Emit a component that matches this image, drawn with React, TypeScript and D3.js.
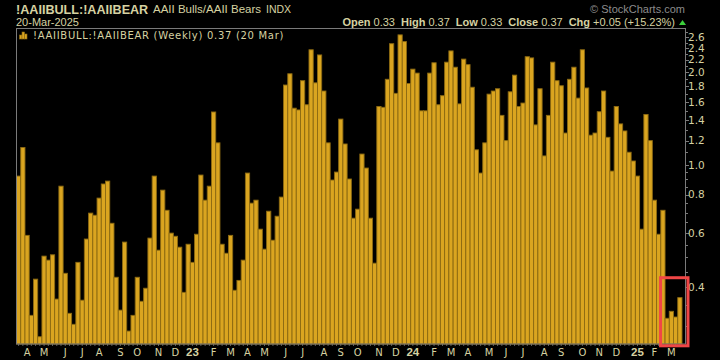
import * as d3 from "d3";
import { useEffect } from "react";

// weekly AAII bull/bear ratio, Mar 24 2022 .. Mar 20 2025
const ratio = [
  0.92, 1.14, 0.59, 0.324, 0.425, 0.276, 0.505, 0.49, 0.51, 0.366,
  0.853, 0.444, 0.329, 0.303, 0.482, 0.363, 0.574, 0.697, 0.686, 0.78,
  0.867, 0.886, 0.646, 0.431, 0.337, 0.561, 0.288, 0.324, 0.431, 0.36,
  0.397, 0.578, 0.92, 0.528, 0.828, 0.712, 0.6, 0.586, 0.54, 0.385,
  0.552, 0.482, 0.595, 0.927, 0.768, 0.853, 1.487, 1.18, 0.552, 0.516,
  0.59, 0.391, 0.421, 0.49, 0.941, 0.751, 0.768, 0.618, 0.532, 0.707,
  0.569, 0.681, 0.786, 1.82, 1.98, 1.53, 1.51, 1.88, 1.57, 2.37,
  1.85, 2.28, 1.74, 1.18, 0.893, 0.948, 1.41, 1.17, 0.9, 0.671,
  0.718, 1.085, 0.977, 0.671, 0.479, 1.55, 1.54, 1.9, 2.48, 1.71,
  2.65, 2.52, 1.84, 2.05, 1.99, 1.5, 1.5, 1.99, 2.15, 1.57,
  1.68, 2.16, 2.35, 2.08, 1.58, 2.21, 2.12, 1.79, 1.12, 0.941,
  1.18, 1.7, 1.74, 1.77, 1.45, 1.2, 1.73, 1.96, 1.55, 1.59,
  2.25, 2.23, 1.35, 1.77, 1.07, 1.45, 2.16, 1.88, 1.81, 1.27,
  1.9, 2.08, 1.65, 2.37, 1.78, 1.25, 1.27, 1.49, 1.74, 1.23,
  0.955, 1.55, 1.36, 1.29, 1.1, 1.03, 0.92, 0.618, 1.46, 1.2,
  0.768, 0.595, 0.712, 0.317, 0.334, 0.32, 0.37,
];
const lastDate = new Date(2025, 2, 20);
const yTicks = [0.4, 0.6, 0.8, 1.0, 1.2, 1.4, 1.6, 1.8, 2.0, 2.2, 2.4, 2.6];
const monthLetters = ["J", "F", "M", "A", "M", "J", "J", "A", "S", "O", "N", "D"];
const quote = [
  ["Open", "0.33"],
  ["High", "0.37"],
  ["Low", "0.33"],
  ["Close", "0.37"],
  ["Chg", "+0.05 (+15.23%)"],
];
const highlightCount = 4;

const khaki = "#d6d2a2";
const head = "'Liberation Sans', Arial, sans-serif";
const mono = "'DejaVu Sans', sans-serif";

export default function App() {
  useEffect(() => {
    document.body.style.margin = "0";
    document.body.style.background = "#000";
  }, []);

  const n = ratio.length;
  const dates = ratio.map((_, i) => d3.timeWeek.offset(lastDate, i - (n - 1)));
  const x = d3.scaleBand<number>().domain(d3.range(n)).range([16.5, 682]);
  const y = d3.scaleLog().domain([0.2614, 2.79]).range([344, 28]);
  const bw = x.bandwidth();

  const minor: number[] = [];
  for (let v = 0.3; v < 1.0; v += 0.05) minor.push(+v.toFixed(2));
  for (let v = 1.1; v < 2.75; v += 0.1) minor.push(+v.toFixed(1));

  // month labels keyed on the Monday of each week
  const monday = (d: Date) => d3.timeDay.offset(d, -3);
  const months = dates
    .map((d, i) => ({ i, m: monday(d) }))
    .filter((o, k, arr) => k === 0 ? o.m.getDate() <= 7 : o.m.getMonth() !== arr[k - 1].m.getMonth());

  const hx0 = (x(n - highlightCount) ?? 0) - 4.5;
  const hx1 = (x(n - 1) ?? 0) + bw + 6;

  return (
    <svg width={720} height={360} style={{ display: "block", background: "#000" }}>
      <text x={16} y={14} fill={khaki} fontFamily={head} fontSize={12.6} fontWeight="bold">!AAIIBULL:!AAIIBEAR</text>
      <text x={153} y={13} fill={khaki} fontFamily={head} fontSize={11.5}>AAII Bulls/AAII Bears<tspan dx={5} fontSize={10.5}>INDX</tspan></text>
      <text x={16} y={25.5} fill={khaki} fontFamily={head} fontSize={11}>20-Mar-2025</text>
      <text x={685} y={13} fill="#8c8c8c" fontFamily={head} fontSize={11} textAnchor="end">© StockCharts.com</text>
      <text x={675} y={25.5} fill={khaki} fontFamily={head} fontSize={11} textAnchor="end">
        {quote.map(([k, v], j) => (
          <tspan key={k}>
            <tspan dx={j ? 6 : 0} fontWeight="bold">{k}</tspan>
            <tspan dx={3}>{v}</tspan>
          </tspan>
        ))}
      </text>
      <path d="M679,25 L682.5,20 L686,25 Z" fill="#3cd03c" />

      {/* bars */}
      {ratio.map((v, i) => (
        <rect key={i} x={x(i)} y={y(v)} width={bw} height={344 - y(v)} fill="#daa520" stroke="#8c6a12" strokeWidth={0.9} />
      ))}

      {/* frame */}
      <rect x={16.5} y={28.5} width={669} height={315.5} fill="none" stroke="#7a7a7a" strokeWidth={1} />

      {/* y axis */}
      {minor.map((v) => (
        <line key={"m" + v} x1={686} x2={688} y1={Math.round(y(v)) + 0.5} y2={Math.round(y(v)) + 0.5} stroke="#7a7a7a" />
      ))}
      {yTicks.map((v) => (
        <g key={v}>
          <line x1={686} x2={689} y1={Math.round(y(v)) + 0.5} y2={Math.round(y(v)) + 0.5} stroke="#7a7a7a" />
          <text x={688} y={y(v)} dy="0.35em" fill={khaki} fontFamily={mono} fontSize={10.5}>{v.toFixed(1)}</text>
        </g>
      ))}

      {/* x axis */}
      {dates.map((_, i) => (
        <line key={"t" + i} x1={(x(i) ?? 0) + bw / 2} x2={(x(i) ?? 0) + bw / 2} y1={344} y2={346} stroke="#7a7a7a" strokeWidth={0.8} />
      ))}
      {months.map(({ i, m }) => {
        const jan = m.getMonth() === 0;
        return (
          <text key={"l" + i} x={(x(i) ?? 0) + bw / 2} y={355.5} textAnchor="middle" fill={khaki}
            fontFamily={jan ? head : mono} fontWeight={jan ? "bold" : "normal"} fontSize={jan ? 11.5 : 10}>
            {jan ? d3.timeFormat("%y")(m) : monthLetters[m.getMonth()]}
          </text>
        );
      })}

      {/* legend */}
      <g fill="#daa520" stroke="#8c6a12" strokeWidth={0.6}>
        <rect x={19.5} y={35} width={2.5} height={4} />
        <rect x={22} y={32} width={2.5} height={7} />
        <rect x={24.5} y={34} width={2.5} height={5} />
      </g>
      <text x={33} y={39} fill={khaki} fontFamily={mono} fontSize={10} letterSpacing={0.7}>!AAIIBULL:!AAIIBEAR (Weekly) 0.37 (20 Mar)</text>

      {/* highlight box */}
      <rect x={hx0} y={y(0.4) - 9.5} width={hx1 - hx0} height={345.8 - (y(0.4) - 9.5)} fill="none" stroke="#f04646" strokeWidth={3} />
    </svg>
  );
}
